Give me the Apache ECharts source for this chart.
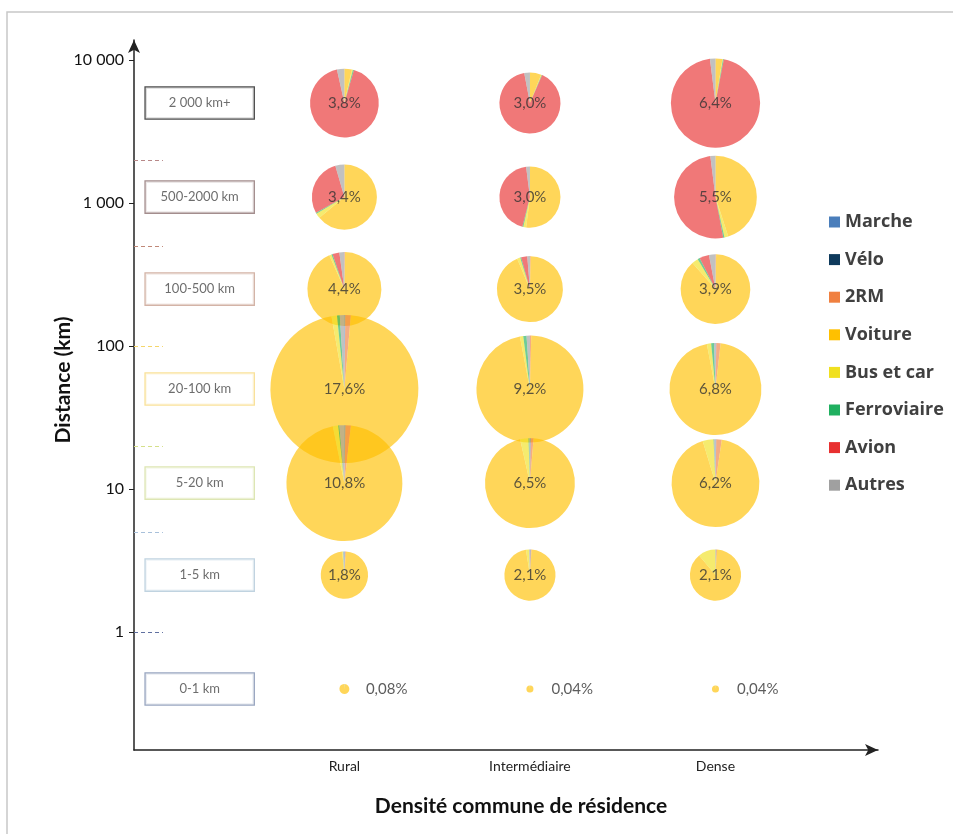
<!DOCTYPE html>
<html>
<head>
<meta charset="utf-8">
<script src="https://cdn.jsdelivr.net/npm/echarts@6/dist/echarts.min.js"></script>
<style>
  html, body { margin: 0; padding: 0; background: #fff; }
  #main { width: 953px; height: 834px; }
</style>
</head>
<body>
<div id="main"></div>
<script>
// --- data ---
const densities = ['Rural', 'Intermédiaire', 'Dense'];
const classes = ['2 000 km+', '500-2000 km', '100-500 km', '20-100 km', '5-20 km', '1-5 km', '0-1 km'];
// representative distance (km) used to place each class on the log axis
const classDistance = [5000, 1100, 250, 50, 11, 2.5, 0.4];
const classBounds = [2000, 500, 100, 20, 5, 1];
const yTicks = [1, 10, 100, 1000, 10000];
const modes = ['Marche', 'Vélo', '2RM', 'Voiture', 'Bus et car', 'Ferroviaire', 'Avion', 'Autres'];

// share of all trips (%) per class, per density
const totalRural = [3.8, 3.4, 4.4, 17.6, 10.8, 1.8, 0.08];
const totalInter = [3.0, 3.0, 3.5, 9.2, 6.5, 2.1, 0.04];
const totalDense = [6.4, 5.5, 3.9, 6.8, 6.2, 2.1, 0.04];

// modal split (%) in each class, order = modes
const splitRural = [
  [0, 0, 0, 3.5, 0.5, 0.5, 92, 3.5],
  [0, 0, 0, 64, 2.5, 0.5, 28.5, 4.5],
  [0, 0, 0.3, 93, 1, 0.5, 3, 2.2],
  [0.2, 0, 1.2, 95.8, 1.2, 0.6, 0, 1],
  [0.3, 0, 1.5, 95, 1.5, 0.3, 0, 1.4],
  [0.5, 0, 0.5, 97.5, 0.5, 0.2, 0, 0.8],
  [1, 0, 0, 98, 1, 0, 0, 0]
];
const splitInter = [
  [0, 0, 0, 6, 0.3, 0.3, 90.4, 3],
  [0, 0, 0, 52, 1.5, 0.5, 44, 2],
  [0, 0, 0.4, 93.3, 1.5, 0.5, 3, 1.3],
  [0, 0, 0.4, 96.6, 1, 1, 0, 1],
  [0.3, 0, 1, 95.2, 3, 0.3, 0, 0.2],
  [0.5, 0, 0.5, 96.5, 2, 0, 0, 0.5],
  [1, 0, 0, 98, 1, 0, 0, 0]
];
const splitDense = [
  [0, 0, 0, 2.5, 0.2, 0.3, 95, 2],
  [0, 0, 0, 45, 1.5, 0.5, 51, 2],
  [0, 0, 0.3, 88.2, 3, 1, 4.5, 3],
  [0.3, 0, 1.5, 95.2, 1.5, 1, 0, 0.5],
  [0.3, 0, 2, 93, 4, 0.2, 0, 0.5],
  [0.5, 0, 0.5, 88, 11, 0, 0, 0],
  [1, 0, 0, 98, 1, 0, 0, 0]
];

// --- styles ---
const modeColors = ['#4A7EBB', '#0E3A5C', '#F08040', '#FFC000', '#F0E020', '#20B060', '#E83030', '#A0A0A0'];
const boxColors = ['#222222', '#8C7070', '#C8A090', '#F8DA80', '#D4E0A0', '#B0C8D8', '#8090B0'];
const boundColors = ['#B88888', '#C08878', '#F5D66A', '#D5E08A', '#A8C0DA', '#6070A0'];
const fontFamily = 'Lato, "Noto Sans", sans-serif';

const totals = [totalRural, totalInter, totalDense];
const splits = [splitRural, splitInter, splitDense];

const X_MIN = -1.134, X_MAX = 2.876, Y_MIN = -0.825, Y_MAX = 4.14;
const BOX_X = -0.78;      // label boxes column
const DASH_END = -0.978;  // end of the short class boundary dashes
const K = 17.64;          // pie radius per sqrt(%)

const fmtPct = v => (v < 1 ? v.toFixed(2) : v.toFixed(1)).replace('.', ',') + '%';
const fmtKm = v => String(Math.round(Math.pow(10, v))).replace(/\B(?=(\d{3})+(?!\d))/g, ' ');
const yTickLog = yTicks.map(Math.log10);

const chart = echarts.init(document.getElementById('main'));

const option = {
  animation: false,
  textStyle: { fontFamily },
  graphic: [{
    type: 'rect', silent: true,
    shape: { x: 7, y: 12, width: 1000, height: 900 },
    style: { fill: 'none', stroke: '#c8c8c8', lineWidth: 1.5 }
  }],
  grid: { left: 134, right: 75, top: 40, bottom: 84 },
  legend: {
    data: modes,
    orient: 'vertical',
    left: 824, top: 208,
    itemWidth: 11, itemHeight: 11, itemGap: 19.6,
    icon: 'rect',
    selectedMode: false,
    itemStyle: { opacity: 1 },
    textStyle: { fontSize: 18, fontWeight: 'bold', color: '#404040', fontFamily: '"Open Sans", Lato, sans-serif' }
  },
  xAxis: {
    type: 'value', min: X_MIN, max: X_MAX,
    axisLine: { show: true, onZero: false, symbol: ['none', 'arrow'], symbolSize: [9, 13], lineStyle: { color: '#222', width: 1.5 } },
    axisTick: { show: false },
    splitLine: { show: false },
    axisLabel: { customValues: [0, 1, 2], formatter: v => densities[Math.round(v)], color: '#222', fontSize: 14, margin: 9 },
    name: 'Densité commune de résidence',
    nameLocation: 'middle', nameGap: 46,
    nameTextStyle: { fontSize: 21, fontWeight: 'bold', color: '#111', padding: [0, 0, 0, 30] }
  },
  yAxis: {
    type: 'value', min: Y_MIN, max: Y_MAX,
    axisLine: { show: true, onZero: false, symbol: ['none', 'arrow'], symbolSize: [9, 13], lineStyle: { color: '#222', width: 1.5 } },
    axisTick: { show: true, customValues: yTickLog, length: 5, lineStyle: { color: '#222' } },
    splitLine: { show: false },
    axisLabel: { customValues: yTickLog, formatter: fmtKm, color: '#111', fontSize: 16, margin: 10 },
    name: 'Distance (km)',
    nameLocation: 'middle', nameRotate: 90, nameGap: 60, nameMoveOverlap: false,
    nameTextStyle: { fontSize: 21, fontWeight: 'bold', color: '#111', padding: [0, 0, 0, 30] }
  },
  series: [
    {
      name: 'classes', type: 'scatter', silent: true, z: 3,
      symbolSize: 0,
      label: {
        show: true, position: 'inside', formatter: '{b}', color: '#484848', fontSize: 13,
        backgroundColor: '#fff', borderWidth: 1.3, width: 108, height: 31,
        lineHeight: 31, align: 'center', verticalAlign: 'middle'
      },
      data: classes.map((c, j) => ({
        name: c,
        value: [BOX_X, Math.log10(classDistance[j])],
        label: { borderColor: boxColors[j] }
      }))
    },
    {
      name: 'bounds', type: 'scatter', silent: true, data: [],
      markLine: {
        silent: true, symbol: 'none', label: { show: false },
        lineStyle: { type: [4, 3], width: 1.2 },
        data: classBounds.map((b, i) => [
          { coord: [X_MIN, Math.log10(b)], lineStyle: { color: boundColors[i] } },
          { coord: [DASH_END, Math.log10(b)] }
        ])
      }
    },
    {
      name: 'totals', type: 'scatter', silent: true, z: 10,
      symbolSize: 1, itemStyle: { color: 'rgba(0,0,0,0)' },
      data: totals.flatMap((t, i) => t.map((v, j) => ({
        value: [i, Math.log10(classDistance[j]), v],
        label: j === 6
          ? { position: 'right', distance: 21 }
          : { position: 'inside' }
      }))),
      label: { show: true, formatter: p => fmtPct(p.value[2]), color: '#333', fontSize: 15 }
    }
  ]
};

chart.setOption(option);

// pies placed at the grid position of each (density, class) cell
totals.forEach((t, i) => {
  t.forEach((v, j) => {
    const c = chart.convertToPixel({ xAxisIndex: 0, yAxisIndex: 0 }, [i, Math.log10(classDistance[j])]);
    option.series.push({
      type: 'pie', silent: true, z: 2,
      center: c,
      radius: K * Math.sqrt(v),
      startAngle: 90, clockwise: true,
      label: { show: false }, labelLine: { show: false },
      emphasis: { disabled: true },
      itemStyle: { opacity: 0.65 },
      data: modes.map((m, k) => ({ name: m, value: splits[i][j][k], itemStyle: { color: modeColors[k] } }))
    });
  });
});

chart.setOption(option, true);
</script>
</body>
</html>
